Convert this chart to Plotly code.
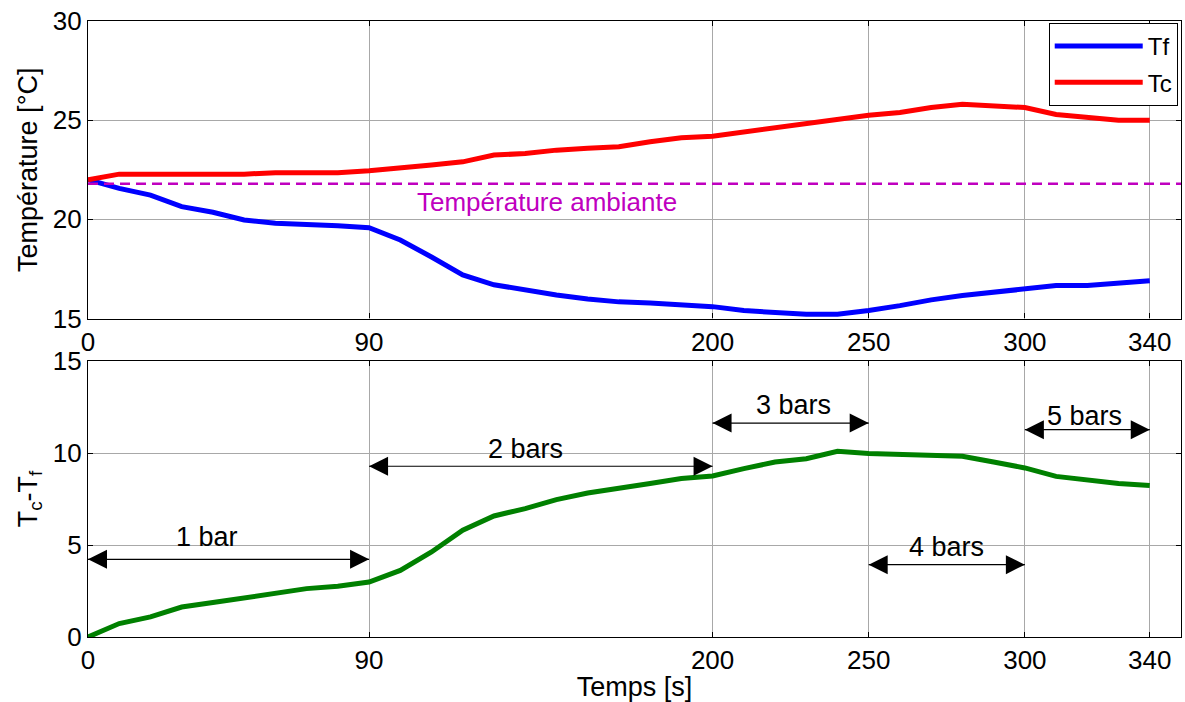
import plotly.graph_objects as go

# ---------------- data ----------------
t = [0, 10, 20, 30, 40, 50, 60, 70, 80, 90, 100, 110, 120, 130, 140, 150, 160,
     170, 180, 190, 200, 210, 220, 230, 240, 250, 260, 270, 280, 290, 300, 310,
     320, 330, 340]
Tf = [22.0, 21.56, 21.22, 20.64, 20.36, 19.97, 19.8, 19.75, 19.68, 19.58, 18.96,
      18.1, 17.2, 16.7, 16.44, 16.19, 15.99, 15.84, 15.78, 15.69, 15.6, 15.4,
      15.32, 15.22, 15.22, 15.4, 15.65, 15.94, 16.16, 16.33, 16.53, 16.66, 16.66,
      16.75, 16.9]
Tc = [22.0, 22.28, 22.28, 22.28, 22.28, 22.28, 22.35, 22.35, 22.35, 22.45, 22.57,
      22.74, 22.9, 23.24, 23.32, 23.49, 23.58, 23.66, 23.91, 24.11, 24.19, 24.41,
      24.63, 24.83, 25.08, 25.25, 25.39, 25.64, 25.8, 25.72, 25.64, 25.29, 25.12,
      25.0, 25.0]
dT = [0.0, 0.73, 1.09, 1.63, 1.87, 2.14, 2.41, 2.63, 2.76, 2.99, 3.62, 4.62, 5.8,
      6.58, 6.98, 7.47, 7.83, 8.06, 8.34, 8.61, 8.75, 9.15, 9.51, 9.69, 10.09,
      9.97, 9.91, 9.82, 9.82, 9.51, 9.19, 8.73, 8.52, 8.34, 8.24]

amb_x = [0, 350]
amb_y = [21.8, 21.8]
amb_label = "Température ambiante"
amb_label_pos = (147, 20.9)

x_ticks = [0, 90, 200, 250, 300, 340]
y1_ticks = [15, 20, 25, 30]
y2_ticks = [0, 5, 10, 15]

bar_labels = ["1 bar", "2 bars", "3 bars", "4 bars", "5 bars"]
arrow_start = [0, 90, 200, 250, 300]
arrow_end = [90, 200, 250, 300, 340]
arrow_y = [4.22, 9.28, 11.63, 3.93, 11.27]
label_x = [38, 140, 226, 275, 319]
label_y = [5.43, 10.24, 12.6, 4.89, 12.0]

# ---------------- figure ----------------
FONT = "Liberation Sans, Arial, sans-serif"
GRID = "#a8a8a8"

fig = go.Figure()
fig.add_trace(go.Scatter(x=t, y=Tf, mode="lines", name="Tf", legendgroup="a",
                         line=dict(color="#0000ff", width=5), xaxis="x", yaxis="y"))
fig.add_trace(go.Scatter(x=t, y=Tc, mode="lines", name="Tc", legendgroup="b",
                         line=dict(color="#ff0000", width=5), xaxis="x", yaxis="y"))
fig.add_trace(go.Scatter(x=amb_x, y=amb_y, mode="lines", showlegend=False,
                         line=dict(color="#bf00bf", width=2.5, dash="10px,6px"),
                         xaxis="x", yaxis="y"))
fig.add_trace(go.Scatter(x=t, y=dT, mode="lines", showlegend=False,
                         line=dict(color="#008000", width=5), xaxis="x2", yaxis="y2"))

# double-headed arrows for the pressure stages
for s, e, ya in zip(arrow_start, arrow_end, arrow_y):
    fig.add_trace(go.Scatter(
        x=[s, e], y=[ya, ya], mode="lines+markers", showlegend=False,
        hoverinfo="skip",
        line=dict(color="black", width=1.2),
        marker=dict(symbol=["arrow-left", "arrow-right"], size=19, color="black",
                    line=dict(width=0)),
        xaxis="x2", yaxis="y2"))

axis_common = dict(showgrid=True, gridcolor=GRID, gridwidth=1, zeroline=False,
                   showline=True, linecolor="black", linewidth=1.3, mirror="ticks",
                   ticks="inside", ticklen=5, tickcolor="black",
                   tickfont=dict(family=FONT, size=26, color="black"))

fig.update_layout(
    width=1185, height=702,
    margin=dict(l=88, r=4, t=21, b=65),
    paper_bgcolor="white", plot_bgcolor="white",
    font=dict(family=FONT, size=24, color="black"),
    xaxis=dict(domain=[0, 1], anchor="y", range=[0, 350], tickvals=x_ticks,
               **axis_common),
    yaxis=dict(domain=[0.517, 1], anchor="x", range=[15, 30], tickvals=y1_ticks,
               title=dict(text="Température [°C]", font=dict(family=FONT, size=27),
                          standoff=7),
               **axis_common),
    xaxis2=dict(domain=[0, 1], anchor="y2", range=[0, 350], tickvals=x_ticks,
                title=dict(text="Temps [s]", font=dict(family=FONT, size=27),
                           standoff=0),
                **axis_common),
    yaxis2=dict(domain=[0, 0.448], anchor="x2", range=[0, 15], tickvals=y2_ticks,
                title=dict(text="T<sub>c</sub>-T<sub>f</sub>",
                           font=dict(family=FONT, size=27), standoff=7),
                **axis_common),
    legend=dict(x=0.997, xanchor="right", y=0.997, yanchor="top",
                bgcolor="white", bordercolor="black", borderwidth=1,
                font=dict(family=FONT, size=24, color="black"),
                itemwidth=88, tracegroupgap=2),
    showlegend=True,
)

annotations = []
annotations.append(dict(x=amb_label_pos[0], y=amb_label_pos[1], xref="x", yref="y",
                        text=amb_label, showarrow=False,
                        font=dict(family=FONT, size=26, color="#bf00bf")))
for lab, lx, ly in zip(bar_labels, label_x, label_y):
    annotations.append(dict(x=lx, y=ly, xref="x2", yref="y2", text=lab,
                            showarrow=False,
                            font=dict(family=FONT, size=27, color="black")))
fig.update_layout(annotations=annotations)

fig.write_html("out.html")
